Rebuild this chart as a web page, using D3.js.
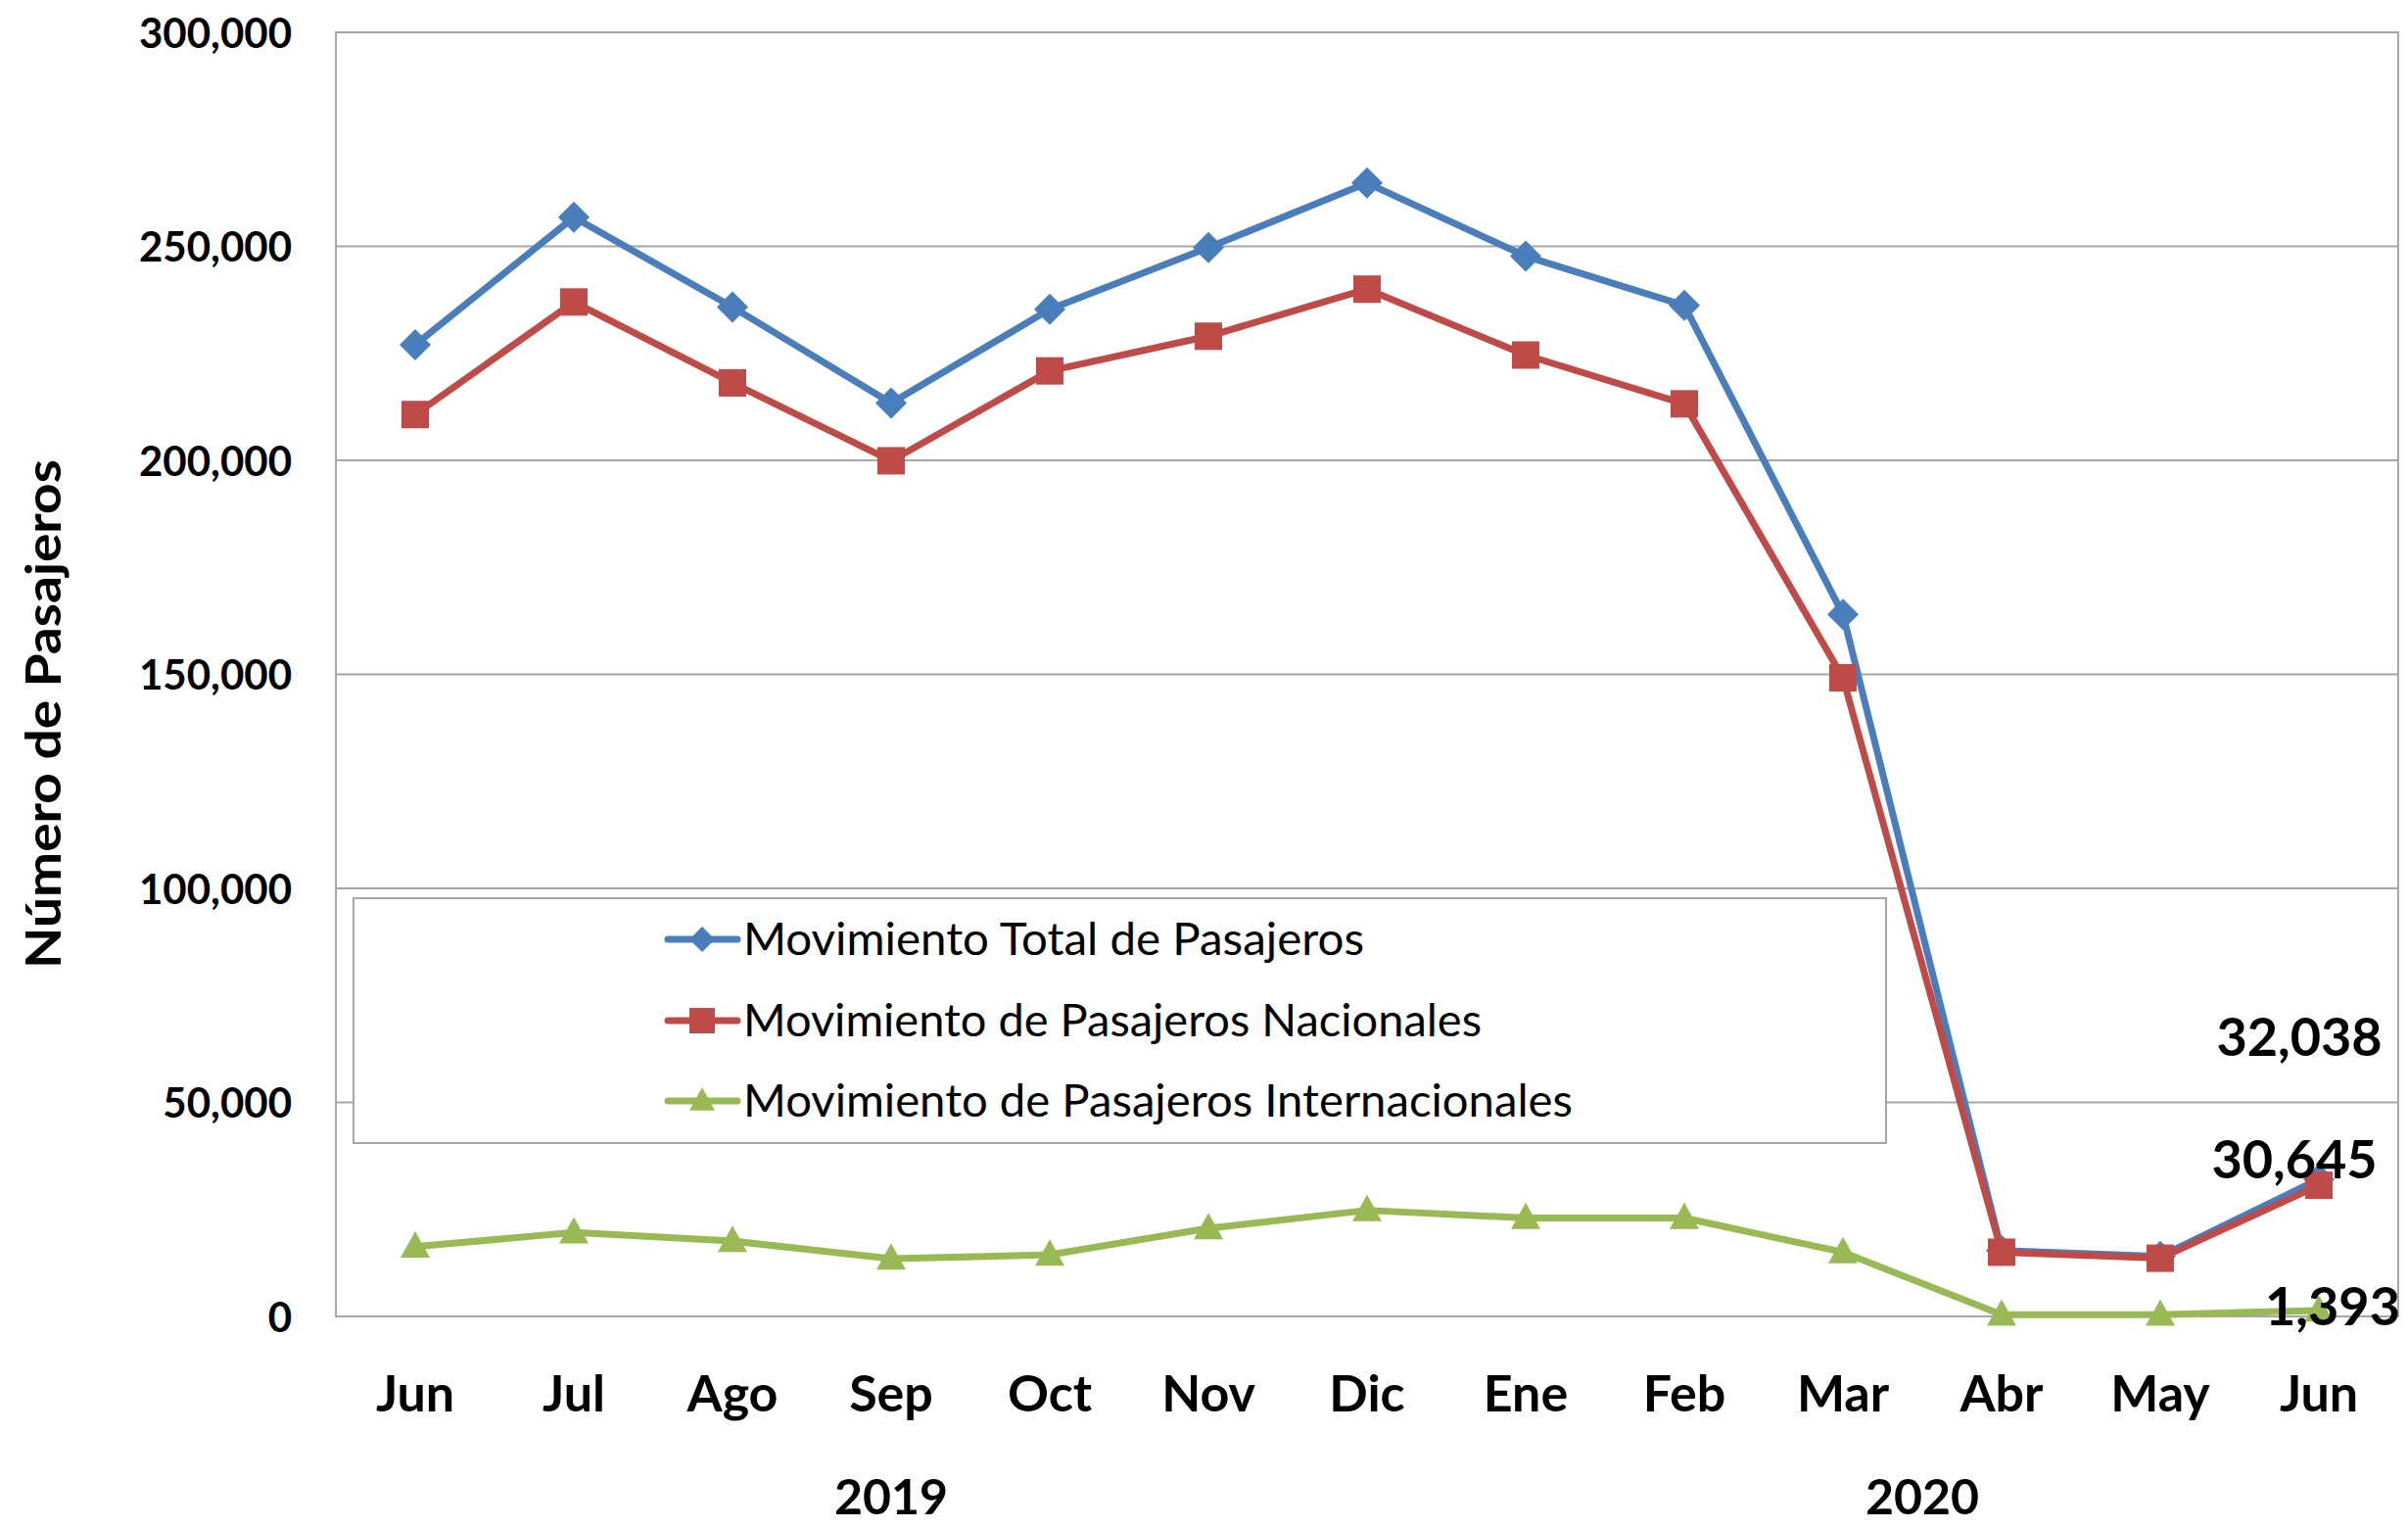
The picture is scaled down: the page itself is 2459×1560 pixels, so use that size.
<!DOCTYPE html>
<html>
<head>
<meta charset="utf-8">
<script src="https://cdn.jsdelivr.net/npm/d3@7"></script>
<style>
  html, body { margin: 0; padding: 0; background: #fff; }
  svg { display: block; }
  text { font-family: Lato, "Open Sans", "Liberation Sans", sans-serif; }
</style>
</head>
<body>
<svg id="chart" width="2459" height="1560"></svg>
<script>
// ---- data ----
const categories = ["Jun","Jul","Ago","Sep","Oct","Nov","Dic","Ene","Feb","Mar","Abr","May","Jun"];
const years = ["2019", "2020"];
const yearSpans = [[0, 6], [7, 12]];
const yTicks = [0, 50000, 100000, 150000, 200000, 250000, 300000];
const seriesNames = [
  "Movimiento Total de Pasajeros",
  "Movimiento de Pasajeros Nacionales",
  "Movimiento de Pasajeros Internacionales"
];
const totalValues = [227000, 256800, 235800, 213400, 235300, 249700, 264800, 247700, 236200, 164000, 15400, 14000, 32038];
const nacionalValues = [210700, 237000, 218100, 199900, 220900, 229000, 240000, 224600, 213200, 149200, 15000, 13600, 30645];
const internacionalValues = [16300, 19600, 17600, 13500, 14400, 20600, 24800, 23000, 23000, 15000, 400, 400, 1393];
const lastLabels = ["32,038", "30,645", "1,393"];

(function () {
// ---- layout ----
const svg = d3.select("#chart");
const pLeft = 343, pRight = 2449, pTop = 33, pBottom = 1344;

const x = d3.scaleBand().domain(d3.range(categories.length)).range([pLeft, pRight]).paddingInner(0).paddingOuter(0);
const y = d3.scaleLinear().domain([0, 300000]).range([pBottom, pTop]);
const cx = i => x(i) + x.bandwidth() / 2;

const gridColor = "#a6a6a6";

// gridlines
svg.append("g").selectAll("line").data(yTicks).join("line")
  .attr("x1", pLeft).attr("x2", pRight)
  .attr("y1", d => y(d)).attr("y2", d => y(d))
  .attr("stroke", gridColor).attr("stroke-width", 2);

// plot frame
svg.append("rect").attr("x", pLeft).attr("y", pTop)
  .attr("width", pRight - pLeft).attr("height", pBottom - pTop)
  .attr("fill", "none").attr("stroke", gridColor).attr("stroke-width", 2);

// y axis labels
const yAxis = d3.axisLeft(y).tickValues(yTicks).tickSize(0).tickPadding(45)
  .tickFormat(d => d3.format(",")(d));
const gy = svg.append("g").attr("transform", `translate(${pLeft},0)`).call(yAxis);
gy.select(".domain").remove();
gy.selectAll("text").attr("font-size", 42).attr("font-weight", "bold").attr("fill", "#000")
  .attr("font-family", "Lato, sans-serif").attr("dy", "0.36em");

// x axis labels
const xAxis = d3.axisBottom(x).tickSize(0).tickPadding(0).tickFormat(i => categories[i]);
const gx = svg.append("g").attr("transform", `translate(0,${pBottom})`).call(xAxis);
gx.select(".domain").remove();
gx.selectAll("text").attr("font-size", 52).attr("font-weight", "bold").attr("fill", "#000")
  .attr("font-family", "Lato, sans-serif").attr("y", 97).attr("dy", 0);

// year labels
svg.append("g").selectAll("text").data(years).join("text")
  .attr("x", (d, i) => (cx(yearSpans[i][0]) + cx(yearSpans[i][1])) / 2)
  .attr("y", 1546)
  .attr("text-anchor", "middle")
  .attr("font-size", 50).attr("font-weight", "bold").attr("fill", "#000")
  .text(d => d);

// y title
svg.append("text")
  .attr("transform", "translate(62,729) rotate(-90)")
  .attr("text-anchor", "middle")
  .attr("font-size", 50).attr("font-weight", "bold").attr("fill", "#000")
  .attr("textLength", 520).attr("lengthAdjust", "spacingAndGlyphs")
  .text("Número de Pasajeros");

// legend box
const legend = svg.append("g");
legend.append("rect").attr("x", 361).attr("y", 917).attr("width", 1565).attr("height", 250)
  .attr("fill", "#fff").attr("stroke", gridColor).attr("stroke-width", 2);

// series
const colors = ["#4a7ebb", "#be4b48", "#98b954"];
const seriesData = [totalValues, nacionalValues, internacionalValues];
const shapes = ["diamond", "square", "triangle"];

function markerPath(shape, s) {
  if (shape === "diamond") return `M0,${-s}L${s},0L0,${s}L${-s},0Z`;
  if (shape === "square") return `M${-s},${-s}H${s}V${s}H${-s}Z`;
  return `M0,${-s * 1.05}L${s},${s * 0.75}L${-s},${s * 0.75}Z`;
}
const markerSize = [16, 14, 15];

const line = d3.line().x((d, i) => cx(i)).y(d => y(d));

seriesData.forEach((vals, k) => {
  const g = svg.append("g");
  g.append("path").datum(vals).attr("d", line)
    .attr("fill", "none").attr("stroke", colors[k]).attr("stroke-width", 7)
    .attr("stroke-linejoin", "round");
  g.selectAll("path.m").data(vals).join("path").attr("class", "m")
    .attr("transform", (d, i) => `translate(${cx(i)},${y(d)})`)
    .attr("d", markerPath(shapes[k], markerSize[k]))
    .attr("fill", colors[k]);
});

// legend entries
const legY = [959, 1042, 1124];
const legWidths = [634, 754, 847];
seriesNames.forEach((name, k) => {
  legend.append("line").attr("x1", 682).attr("x2", 753).attr("y1", legY[k]).attr("y2", legY[k])
    .attr("stroke", colors[k]).attr("stroke-width", 7).attr("stroke-linecap", "round");
  legend.append("path").attr("transform", `translate(717,${legY[k]})`)
    .attr("d", markerPath(shapes[k], 13)).attr("fill", colors[k]);
  legend.append("text").attr("x", 759).attr("y", legY[k] + 16)
    .attr("font-size", 47).attr("fill", "#000")
    .attr("textLength", legWidths[k]).attr("lengthAdjust", "spacingAndGlyphs")
    .text(name);
});

// data labels for last point
const last = categories.length - 1;
const labelOffsets = [[-20, -126], [-25, -7], [14, 15]];
seriesData.forEach((vals, k) => {
  svg.append("text")
    .attr("x", cx(last) + labelOffsets[k][0])
    .attr("y", y(vals[last]) + labelOffsets[k][1])
    .attr("text-anchor", "middle")
    .attr("font-size", 54).attr("font-weight", "bold").attr("fill", "#000")
    .text(lastLabels[k]);
});
})();
</script>
</body>
</html>
